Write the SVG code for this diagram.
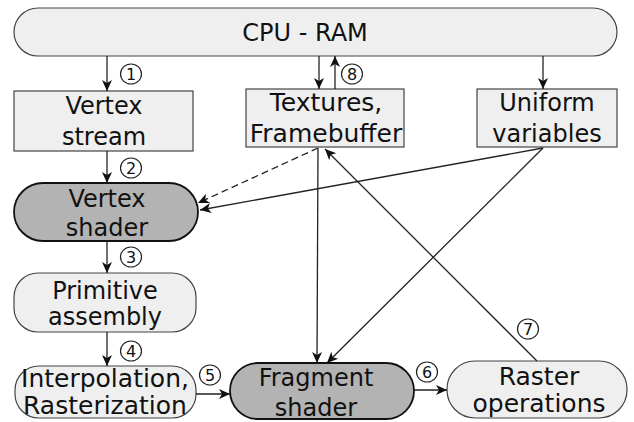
<svg xmlns="http://www.w3.org/2000/svg" width="634" height="422" viewBox="0 0 634 422">
<style>
.lbl{font-family:"DejaVu Sans",sans-serif;font-size:24px;fill:#111;text-anchor:middle}
.mid{font-size:25px}
.num{font-family:"DejaVu Sans",sans-serif;font-size:16px;fill:#111;text-anchor:middle}
.ring{fill:#fff;stroke:#222;stroke-width:1.2}
.light{fill:#efefef;stroke:#444;stroke-width:1.2}
.dark{fill:#b3b3b3;stroke:#111;stroke-width:1.8}
.box{fill:#efefef;stroke:#444;stroke-width:1.2}
.con{fill:none;stroke:#222;stroke-width:1.3}
.dash{stroke-dasharray:7,4}
</style>
<defs>
<marker id="ah" markerUnits="userSpaceOnUse" viewBox="-12 -6 13 12" refX="0" refY="0" markerWidth="13" markerHeight="12" orient="auto">
<path d="M0,0 L-11,-5 L-8,0 L-11,5 Z" fill="#111"/>
</marker>
</defs>
<rect width="634" height="422" fill="#fff"/>
<g id="cpu-ram"><rect class="light" x="14" y="8" width="603" height="48" rx="24"/><text class="lbl" x="305" y="41">CPU - RAM</text></g>
<g id="vertex-stream"><rect class="box" x="14" y="91" width="179" height="60"/><text class="lbl" x="104" y="114">Vertex</text><text class="lbl" x="104" y="145">stream</text></g>
<g id="textures"><rect class="box" x="246" y="89" width="158" height="58"/><text class="lbl mid" x="326" y="111">Textures,</text><text class="lbl mid" x="326" y="142">Framebuffer</text></g>
<g id="uniform"><rect class="box" x="477" y="89" width="140" height="58"/><text class="lbl" x="547" y="111">Uniform</text><text class="lbl" x="547" y="142">variables</text></g>
<g id="vertex-shader"><rect class="dark" x="14" y="183" width="184" height="58" rx="29"/><text class="lbl" x="107" y="207">Vertex</text><text class="lbl" x="107" y="236">shader</text></g>
<g id="primitive-assembly"><rect class="light" x="14" y="273" width="182" height="59" rx="24"/><text class="lbl" x="105" y="299">Primitive</text><text class="lbl" x="105" y="325">assembly</text></g>
<g id="interpolation"><rect class="light" x="15" y="366" width="181" height="52" rx="24"/><text class="lbl mid" x="105" y="387">Interpolation,</text><text class="lbl mid" x="105" y="414">Rasterization</text></g>
<g id="fragment-shader"><rect class="dark" x="230" y="363" width="184" height="56" rx="28"/><text class="lbl" x="316" y="386">Fragment</text><text class="lbl" x="316" y="416">shader</text></g>
<g id="raster-operations"><rect class="light" x="447" y="361" width="180" height="57" rx="28"/><text class="lbl mid" x="539" y="385">Raster</text><text class="lbl mid" x="539" y="412">operations</text></g>
<g id="connectors">
<line class="con" x1="107" y1="56" x2="107" y2="91" marker-end="url(#ah)"/>
<line class="con" x1="319" y1="56" x2="319" y2="89" marker-end="url(#ah)"/>
<line class="con" x1="335" y1="89" x2="335" y2="56" marker-end="url(#ah)"/>
<line class="con" x1="543" y1="56" x2="543" y2="89" marker-end="url(#ah)"/>
<line class="con" x1="107" y1="151" x2="107" y2="183" marker-end="url(#ah)"/>
<line class="con" x1="107" y1="241" x2="107" y2="273" marker-end="url(#ah)"/>
<line class="con" x1="107" y1="332" x2="107" y2="366" marker-end="url(#ah)"/>
<line class="con" x1="196" y1="394" x2="230" y2="394" marker-end="url(#ah)"/>
<line class="con" x1="414" y1="390" x2="447" y2="390" marker-end="url(#ah)"/>
<line class="con dash" x1="318" y1="148" x2="198" y2="203" marker-end="url(#ah)"/>
<line class="con" x1="543" y1="148" x2="200" y2="210" marker-end="url(#ah)"/>
<line class="con" x1="318" y1="148" x2="317" y2="363" marker-end="url(#ah)"/>
<line class="con" x1="543" y1="148" x2="327" y2="363" marker-end="url(#ah)"/>
<line class="con" x1="537" y1="361" x2="325" y2="149" marker-end="url(#ah)"/>
</g>
<g id="step-numbers">
<g id="step-1"><ellipse class="ring" cx="131" cy="74" rx="10.5" ry="10"/><text class="num" x="131" y="80">1</text></g>
<g id="step-2"><ellipse class="ring" cx="131" cy="168" rx="10.5" ry="10"/><text class="num" x="131" y="174">2</text></g>
<g id="step-3"><ellipse class="ring" cx="131" cy="257" rx="10.5" ry="10"/><text class="num" x="131" y="263">3</text></g>
<g id="step-4"><ellipse class="ring" cx="131" cy="351" rx="10.5" ry="10"/><text class="num" x="131" y="357">4</text></g>
<g id="step-5"><ellipse class="ring" cx="210" cy="375" rx="10.5" ry="10"/><text class="num" x="210" y="381">5</text></g>
<g id="step-6"><ellipse class="ring" cx="427" cy="372" rx="10.5" ry="10"/><text class="num" x="427" y="378">6</text></g>
<g id="step-7"><ellipse class="ring" cx="528" cy="329" rx="10.5" ry="10"/><text class="num" x="528" y="335">7</text></g>
<g id="step-8"><ellipse class="ring" cx="352" cy="74" rx="10.5" ry="10"/><text class="num" x="352" y="80">8</text></g>
</g>
</svg>
